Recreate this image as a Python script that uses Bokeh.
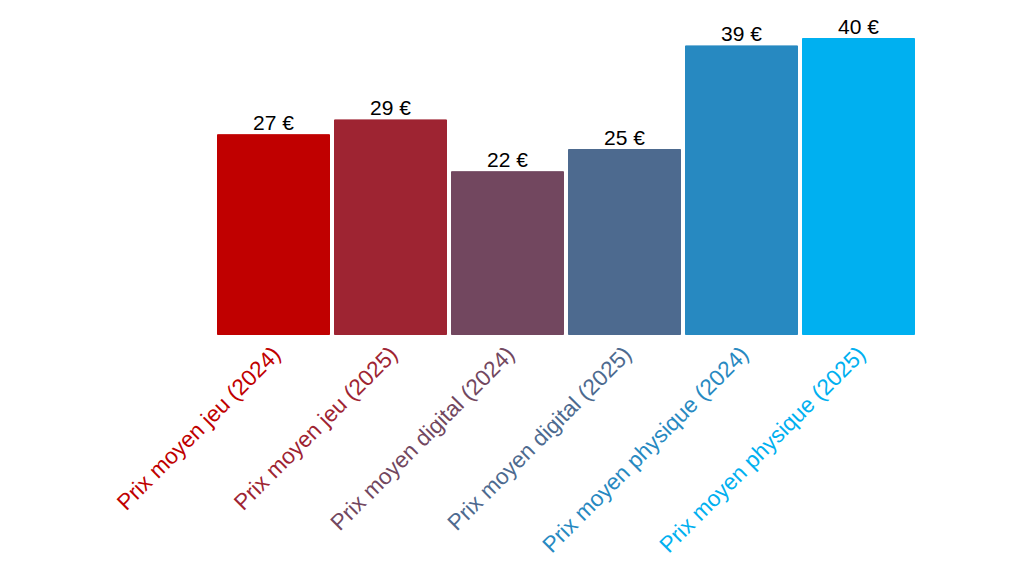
from bokeh.plotting import figure
from bokeh.models import ColumnDataSource, LabelSet, Range1d
from bokeh.core.properties import value
from bokeh.embed import file_html
from bokeh.resources import INLINE

categories = ["Prix moyen jeu (2024)", "Prix moyen jeu (2025)",
              "Prix moyen digital (2024)", "Prix moyen digital (2025)",
              "Prix moyen physique (2024)", "Prix moyen physique (2025)"]
values = [27, 29, 22, 25, 39, 40]
value_labels = ["27 €", "29 €", "22 €", "25 €", "39 €", "40 €"]
colors = ["#C00000", "#9E2432", "#72475F", "#4D6A8F", "#2789C1", "#00B0F0"]

xs = list(range(len(categories)))
src = ColumnDataSource(dict(x=xs, top=values, cat=categories,
                            vlab=value_labels, color=colors,
                            zero=[0] * len(xs)))

W, H = 1008, 560
PX_X, X0 = 117.0, 273.0
PX_Y, Y0 = 7.4, 334.0
p = figure(width=W, height=H, output_backend="svg", toolbar_location=None,
           x_axis_location=None, y_axis_location=None,
           x_range=Range1d(-X0 / PX_X, (W - X0) / PX_X),
           y_range=Range1d(-(H - Y0) / PX_Y, Y0 / PX_Y),
           min_border=0)
p.vbar(x="x", top="top", bottom=0, width=112 / 117, color="color", source=src)

FONT = value("Liberation Sans")
vl = LabelSet(x="x", y="top", text="vlab", source=src, text_align="center",
              text_baseline="bottom", y_offset=1, text_font=FONT,
              text_font_size="21px", text_color="#000000")
p.add_layout(vl)

cl = LabelSet(x="x", y="zero", text="cat", source=src, text_align="right",
              text_baseline="middle", angle=0.785398, x_offset=3,
              y_offset=-16, text_font=FONT, text_font_size="22.5px",
              text_color="color")
p.add_layout(cl)

p.xgrid.visible = False
p.ygrid.visible = False
p.outline_line_color = None
p.background_fill_color = "white"
p.border_fill_color = "white"

open("out.html", "w").write(file_html(p, INLINE))
